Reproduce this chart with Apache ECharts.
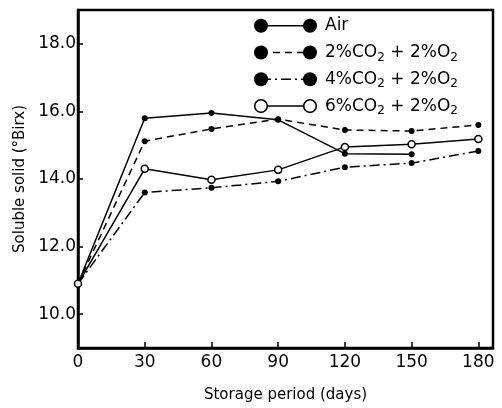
<!DOCTYPE html>
<html>
<head>
<meta charset="utf-8">
<script src="https://cdn.jsdelivr.net/npm/echarts@6/dist/echarts.min.js"></script>
<style>html,body{margin:0;padding:0;background:#fff}#c{width:502px;height:408px}</style>
</head>
<body>
<div id="c"></div>
<script>
var days = [0, 30, 60, 90, 120, 150, 180];
var air = [10.9, 15.8, 15.95, 15.75, 14.75, 14.73, null];
var co2_2 = [10.9, 15.12, 15.48, 15.77, 15.45, 15.42, 15.6];
var co2_4 = [10.9, 13.6, 13.74, 13.93, 14.35, 14.47, 14.83];
var co2_6 = [10.9, 14.3, 13.98, 14.27, 14.95, 15.03, 15.18];
var names = ['Air', '2%CO2+2%O2', '4%CO2+2%O2', '6%CO2+2%O2'];
var legendRich = ['{n|Air}', '{n|2%CO}{s|2}{n| + 2%O}{s|2}', '{n|4%CO}{s|2}{n| + 2%O}{s|2}', '{n|6%CO}{s|2}{n| + 2%O}{s|2}'];
var xTicks = [0, 30, 60, 90, 120, 150, 180];
var yTicks = [10, 12, 14, 16, 18];

var FONT = 'DejaVu Sans';
function pairs(vals) {
  var out = [];
  for (var i = 0; i < days.length; i++) if (vals[i] != null) out.push([days[i], vals[i]]);
  return out;
}
var styles = [
  {type: 'solid', filled: true},
  {type: [7, 5], filled: true},
  {type: [10, 4, 2, 4], filled: true},
  {type: 'solid', filled: false}
];
var allData = [air, co2_2, co2_4, co2_6];
var series = allData.map(function (d, i) {
  var st = styles[i];
  return {
    name: names[i], type: 'line', data: pairs(d),
    symbol: 'circle', symbolSize: st.filled ? 6 : 7,
    itemStyle: {color: st.filled ? '#000' : '#fff', borderColor: '#000', borderWidth: st.filled ? 0 : 1.5},
    lineStyle: {color: '#000', width: 1.5, type: st.type},
    z: st.filled ? 3 : 4,
    animation: false
  };
});

var graphics = [];
for (var i = 0; i < 4; i++) {
  var y = 25.7 + i * 26.8;
  var st = styles[i];
  graphics.push({type: 'line', shape: {x1: 261, y1: y, x2: 310, y2: y},
    style: {stroke: '#000', lineWidth: 1.5, lineDash: st.type === 'solid' ? null : st.type}, z: 10});
  [261, 310].forEach(function (cx) {
    graphics.push({type: 'circle', shape: {cx: cx, cy: y, r: st.filled ? 7 : 6.3},
      style: {fill: st.filled ? '#000' : '#fff', stroke: '#000', lineWidth: st.filled ? 0 : 1.6}, z: 11});
  });
  graphics.push({type: 'text', x: 325, y: y,
    style: {text: legendRich[i], fill: '#000', verticalAlign: 'middle', align: 'left',
      rich: {
        n: {fontFamily: FONT, fontSize: 17, lineHeight: 22, verticalAlign: 'middle', fill: '#000'},
        s: {fontFamily: FONT, fontSize: 12, lineHeight: 12, verticalAlign: 'bottom', fill: '#000', padding: [0, 0, 0, 0]}
      }}, z: 11});
}

var chart = echarts.init(document.getElementById('c'), null, {renderer: 'canvas'});
chart.setOption({
  animation: false,
  backgroundColor: '#fff',
  grid: {left: 78, right: 9, top: 10, bottom: 60, show: true, borderColor: '#000', borderWidth: 2.5, containLabel: false},
  xAxis: {
    type: 'value', min: 0, max: 186.6,
    name: 'Storage period (days)', nameLocation: 'middle', nameGap: 40,
    nameTextStyle: {fontFamily: FONT, fontSize: 15, color: '#000'},
    axisLine: {show: true, lineStyle: {color: '#000', width: 2.5}},
    axisTick: {show: true, inside: true, length: 6, customValues: [30, 60, 90, 120, 150, 180], lineStyle: {color: '#000', width: 1.5}},
    axisLabel: {customValues: xTicks, margin: 6, fontFamily: FONT, fontSize: 17, color: '#000'},
    splitLine: {show: false}
  },
  yAxis: {
    type: 'value', min: 9, max: 19,
    name: 'Soluble solid (°Birx)', nameLocation: 'middle', nameGap: 49, nameRotate: 90,
    nameTextStyle: {fontFamily: FONT, fontSize: 15, color: '#000'},
    axisLine: {show: true, lineStyle: {color: '#000', width: 2.5}},
    axisTick: {show: true, inside: true, length: 5, customValues: yTicks, lineStyle: {color: '#000', width: 1.5}},
    axisLabel: {customValues: yTicks, margin: 2, fontFamily: FONT, fontSize: 17, color: '#000',
      formatter: function (v) { return v.toFixed(1); }},
    splitLine: {show: false}
  },
  graphic: graphics,
  series: series
});
</script>
</body>
</html>
